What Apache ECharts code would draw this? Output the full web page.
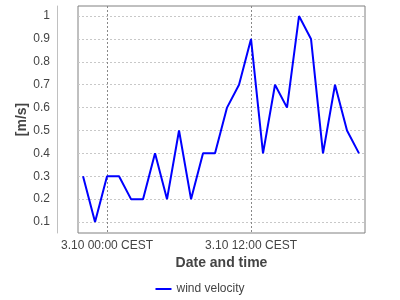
<!DOCTYPE html>
<html><head><meta charset="utf-8">
<script src="https://cdn.jsdelivr.net/npm/echarts@6/dist/echarts.min.js"></script>
<style>html,body{margin:0;padding:0;background:#fff}#c{width:400px;height:300px}</style>
</head><body><div id="c"></div>
<script>
// hours relative to 3.10 00:00 CEST
const hours = [-2,-1,0,1,2,3,4,5,6,7,8,9,10,11,12,13,14,15,16,17,18,19,20,21];
const windVelocity = [0.3,0.1,0.3,0.3,0.2,0.2,0.4,0.2,0.5,0.2,0.4,0.4,0.6,0.7,0.9,0.4,0.7,0.6,1.0,0.9,0.4,0.7,0.5,0.4];
const xTickValues = [0, 12];
const xTickLabels = ['3.10 00:00 CEST', '3.10 12:00 CEST'];
const yTickValues = [0.1,0.2,0.3,0.4,0.5,0.6,0.7,0.8,0.9,1.0];
const seriesName = 'wind velocity';

const font = 'Liberation Sans, Arial, sans-serif';
const chart = echarts.init(document.getElementById('c'), null, {renderer:'canvas'});
chart.setOption({
  animation:false,
  backgroundColor:'#ffffff',
  grid:{left:78, top:6, width:287, height:227, show:true, borderColor:'#808080', borderWidth:1, backgroundColor:'#ffffff', containLabel:false},
  legend:{bottom:0, left:'center', data:[seriesName], itemWidth:16, itemHeight:2, icon:'rect',
    textStyle:{fontFamily:font, fontSize:12, color:'#444444'}},
  xAxis:{type:'value', min:-2.42, max:21.5,
    name:'Date and time', nameLocation:'middle', nameGap:23, nameMoveOverlap:false,
    nameTextStyle:{fontFamily:font, fontSize:14, fontWeight:'bold', color:'#444444'},
    axisLine:{show:false, onZero:false}, axisTick:{show:false, customValues:xTickValues},
    axisLabel:{customValues:xTickValues, margin:7, fontFamily:font, fontSize:12, color:'#444444',
      formatter:function(v){ return xTickLabels[xTickValues.indexOf(v)]; }},
    splitLine:{show:true, lineStyle:{color:'#888888', type:[2,2], width:1}}},
  yAxis:{type:'value', min:0.052, max:1.044, offset:21,
    name:'[m/s]', nameLocation:'middle', nameGap:28, nameMoveOverlap:false,
    nameTextStyle:{fontFamily:font, fontSize:14, fontWeight:'bold', color:'#444444'},
    axisLine:{show:true, onZero:false, lineStyle:{color:'#c0c0c0', width:1}},
    axisTick:{show:false, customValues:yTickValues},
    axisLabel:{customValues:yTickValues, margin:7, fontFamily:font, fontSize:12, color:'#444444',
      formatter:function(v){ return String(Math.round(v*10)/10); }},
    splitLine:{show:true, lineStyle:{color:'#c8c8c8', type:[2,2], width:1}}},
  series:[{name:seriesName, type:'line', data:hours.map((h,i)=>[h, windVelocity[i]]),
    symbol:'none', itemStyle:{color:'#0000ff'}, lineStyle:{color:'#0000ff', width:2}}]
});
</script></body></html>
